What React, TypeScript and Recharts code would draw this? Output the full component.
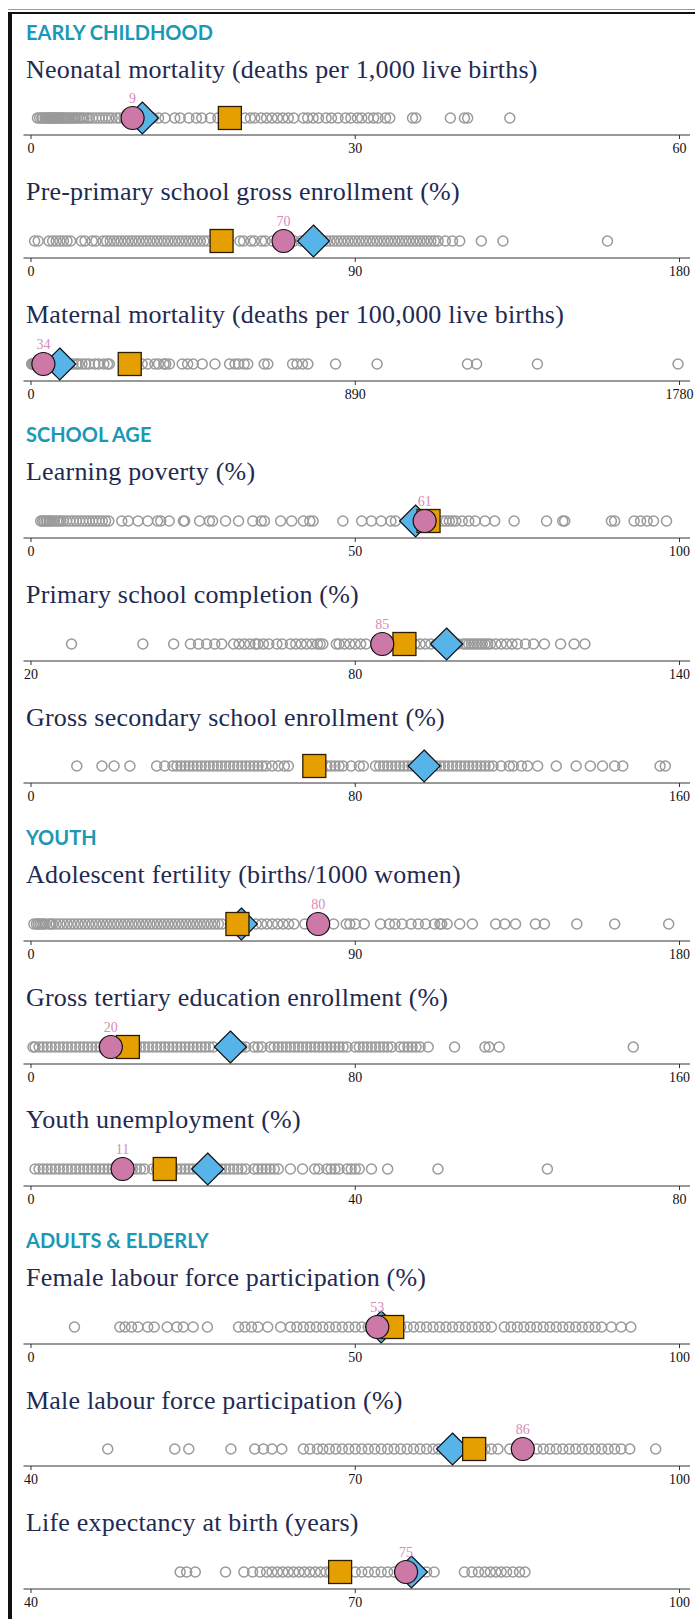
import { ScatterChart, Scatter, XAxis, YAxis } from "recharts";

const serif = '"Liberation Serif", "Times New Roman", serif';

if (typeof document !== "undefined") {
  document.documentElement.style.overflow = "hidden";
  // #root is only body-wide (ends 8px short of the window); let the frame run to the window edge
  document.body.style.marginRight = "0";
  const css = document.createElement("style");
  css.textContent = "#root { overflow: visible !important; } #root, #root * { max-width: none !important; }";
  document.head.appendChild(css);
}

const panelTitles = [
  "Neonatal mortality (deaths per 1,000 live births)",
  "Pre-primary school gross enrollment (%)",
  "Maternal mortality (deaths per 100,000 live births)",
  "Learning poverty (%)",
  "Primary school completion (%)",
  "Gross secondary school enrollment (%)",
  "Adolescent fertility (births/1000 women)",
  "Gross tertiary education enrollment (%)",
  "Youth unemployment (%)",
  "Female labour force participation (%)",
  "Male labour force participation (%)",
  "Life expectancy at birth (years)",
];

const sections = [
  { label: "EARLY CHILDHOOD", start: 0 },
  { label: "SCHOOL AGE", start: 3 },
  { label: "YOUTH", start: 6 },
  { label: "ADULTS & ELDERLY", start: 9 },
];

const axisTicks = [
  [0, 30, 60],
  [0, 90, 180],
  [0, 890, 1780],
  [0, 50, 100],
  [20, 80, 140],
  [0, 80, 160],
  [0, 90, 180],
  [0, 80, 160],
  [0, 40, 80],
  [0, 50, 100],
  [40, 70, 100],
  [40, 70, 100],
];

// pink circle (labelled), blue diamond, orange square
const countryValues: (number | null)[] = [9.4, 70.1, 34, 60.7, 85, null, 79.7, 19.7, 11.3, 53.4, 85.5, 74.7];
const diamondValues = [10.3, 78.4, 79, 59.3, 96.9, 97, 58.4, 49.2, 21.8, 54, 79, 75.2];
const squareValues = [18.4, 52.9, 271, 61.3, 89.1, 69.9, 57.3, 23.9, 16.5, 55.7, 81, 68.6];

const neonatalOthers = [
  0.6, 0.8, 1, 1.1, 1.3, 1.4, 1.5, 1.6, 1.7, 1.8, 1.9, 2, 2.1, 2.2, 2.3, 2.4, 2.5, 2.6, 2.8, 2.9, 3, 3.2, 3.3,
  3.5, 3.6, 3.8, 4, 4.1, 4.3, 4.5, 4.7, 4.9, 5.2, 5.4, 5.7, 6, 6.3, 6.6, 6.9, 7.2, 7.5, 7.9, 8.2, 8.6, 9.1,
  9.6, 10.3, 10.8, 11.3, 11.8, 12.4, 13.3, 13.8, 14.6, 15.3, 15.8, 16.6, 17.3, 19.8, 20.3, 20.7, 21.3, 21.8,
  22.3, 22.8, 23.3, 23.8, 24.3, 25.2, 25.6, 26.1, 26.6, 27.3, 27.8, 28.4, 29.1, 29.6, 30.2, 30.6, 31.2, 31.7,
  32.1, 32.8, 33.2, 35.3, 35.6, 38.8, 40.1, 40.4, 44.3,
];
const preprimaryOthers = [
  1, 2, 5, 6, 7, 8, 9, 10, 11, 14, 15, 17, 18, 20, 21, 22, 23, 24, 25, 26, 27, 28, 29, 30, 31, 32, 33, 34, 35,
  36, 37, 38, 39, 40, 41, 42, 43, 44, 45, 46, 47, 48, 49, 58, 59, 61, 62, 64, 65, 67, 73, 75, 77, 82, 83, 84,
  85, 86, 87, 88, 89, 90, 91, 92, 93, 94, 95, 96, 97, 98, 99, 100, 101, 102, 103, 104, 105, 106, 107, 108,
  109, 110, 111, 112, 113, 115, 117, 119, 125, 131, 160,
];
const maternalOthers = [
  2, 3, 4, 5, 6, 7, 8, 9, 10, 11, 12, 13, 15, 17, 19, 20, 22, 25, 27, 29, 31, 36, 38, 42, 45, 48, 52, 55, 60,
  65, 70, 75, 85, 95, 105, 115, 125, 130, 140, 150, 160, 175, 185, 200, 210, 215, 280, 305, 320, 340, 350,
  365, 370, 380, 415, 430, 445, 470, 505, 545, 560, 570, 585, 595, 640, 650, 718, 730, 745, 760, 836, 950,
  1198, 1223, 1390, 1776,
];
const learningOthers = [
  1.5, 1.8, 2, 2.3, 2.5, 2.8, 3, 3.3, 3.6, 4, 4.3, 4.6, 5, 5.5, 6, 6.5, 7, 7.5, 8, 8.5, 9, 9.5, 10, 10.5, 11,
  11.5, 12, 14, 15, 16.5, 18, 19.5, 20, 21.3, 23.5, 23.7, 26, 27.5, 28, 30, 32, 34.2, 35.5, 36, 38.5, 40.2,
  42, 43, 43.5, 48.1, 51, 52.5, 54, 55.5, 56.2, 63.5, 64, 64.5, 65, 65.5, 66.5, 67.5, 68.5, 70, 71.5, 74.5,
  79.5, 82, 82.3, 89.5, 90, 93, 94, 95, 96, 98,
];
const primaryOthers = [
  27.5, 40.7, 46.4, 49.5, 51, 52.5, 54, 55.3, 57.5, 58.5, 59.5, 60.5, 61.5, 62, 63, 64, 65.5, 66.5, 68, 69,
  70, 71, 72, 73, 73.5, 74, 76.5, 77, 78, 79, 80, 81, 82, 84, 90, 91, 92, 93, 94, 95, 96, 97, 98, 99, 100,
  100.5, 101, 101.5, 102, 102.5, 103, 103.5, 104, 104.5, 105, 106, 107, 108, 109, 110, 111.5, 113, 115, 118,
  120.5, 122.5,
];
const secondaryOthers = [
  11.3, 17.5, 20.5, 24.4, 31, 33, 35, 36, 37, 38, 39, 40, 41, 42, 43, 44, 45, 46, 47, 48, 49, 50, 51, 52, 53,
  54, 55, 56, 57, 58, 59.5, 61, 62.5, 63.5, 73, 74, 75, 76, 77, 79, 81, 82, 85, 86, 87, 88, 89, 90, 91, 92,
  93, 94, 95, 96, 98, 99, 100, 101, 102, 103, 104, 105, 106, 107, 108, 109, 110, 111, 112, 113, 114, 116, 118,
  119, 121, 122.5, 125, 129.6, 134.5, 138, 141, 144, 146, 155.2, 156.5,
];
const adolescentOthers = [
  0.8, 1.5, 2, 2.5, 3, 3.5, 4, 5, 5.5, 6, 7, 8, 9, 10, 11, 12, 13, 14, 15, 16, 17, 18, 19, 20, 21, 22, 23, 24,
  25, 26, 27, 28, 29, 30, 31, 32, 33, 34, 35, 36, 37, 38, 39, 40, 41, 42, 43, 44, 45, 46, 47, 48, 49, 50, 51,
  52, 53, 62.5, 64, 65.5, 67, 68.5, 70, 71.5, 73, 76, 84, 87.5, 88.5, 90, 92.5, 97, 99.5, 101, 103, 105.5,
  107.5, 109.5, 112, 113.5, 114, 115.5, 119, 122.5, 129, 131.5, 134.5, 140, 142.5, 151.5, 162, 177,
];
const tertiaryOthers = [
  0.5, 1, 2, 3, 4, 5, 6, 7, 8, 9, 10, 11, 12, 13, 14, 15, 16, 17, 18, 21, 22, 26, 27, 28, 29, 30, 31, 32, 33,
  34, 35, 36, 37, 38, 39, 40, 41, 42, 43, 44, 45, 51, 52, 53, 55, 56, 57, 59, 60, 61, 62, 63, 64, 65, 66, 67,
  68, 69, 70, 71, 72, 73, 74, 75, 76, 77, 78, 80, 81, 82, 83, 84, 85, 86, 87, 88, 89, 91, 92, 93, 94, 95, 96,
  98, 104.5, 112, 113, 115.5, 148.6,
];
const unemploymentOthers = [
  0.5, 1, 1.5, 2, 2.5, 3, 3.5, 4, 4.5, 5, 5.5, 6, 6.5, 7, 7.5, 8, 8.5, 9, 9.5, 10, 10.5, 12, 12.5, 13, 13.5,
  14, 15, 15.5, 17.5, 18, 18.5, 19, 19.5, 20, 20.5, 23, 23.5, 24, 24.5, 25, 25.5, 26, 26.5, 27.5, 28, 28.5, 29,
  29.5, 30, 30.5, 32, 33.5, 35, 35.5, 36.5, 37, 37.5, 38, 39, 39.5, 40, 40.5, 42, 44, 50.2, 63.7,
];
const femaleOthers = [
  6.7, 13.7, 14.5, 15.5, 16.5, 18, 19, 21, 22.5, 23.5, 25, 27.2, 32, 33, 34, 35, 36.5, 38.5, 40, 41, 42, 43,
  44, 45, 46, 47, 48, 49, 50, 51, 52, 56.5, 57, 58, 59, 60, 61, 62, 63, 64, 65, 66, 67, 68, 69, 70, 71, 73,
  74, 75, 76, 77, 78, 79, 80, 81, 82, 83, 84, 85, 86, 87, 88, 89.5, 91, 92.5,
];
const maleOthers = [
  47.1, 53.3, 54.6, 58.5, 60.7, 61.5, 62.3, 63.2, 65.2, 65.8, 66.5, 67, 67.6, 68.2, 68.8, 69.4, 70, 70.6,
  71.2, 71.8, 72.4, 73, 73.6, 74.2, 74.8, 75.4, 76, 76.6, 77.2, 77.7, 82, 82.6, 83.2, 84.3, 86.8, 87.4, 88,
  88.6, 89.2, 89.8, 90.4, 91, 91.6, 92.2, 92.8, 93.4, 94, 94.6, 95.4, 97.8,
];
const lifeOthers = [
  53.8, 54.4, 55.2, 58, 59.7, 60.5, 61.2, 61.8, 62.3, 62.8, 63.3, 63.8, 64.3, 64.8, 65.3, 65.8, 66.3, 66.8,
  67.3, 67.7, 70, 70.6, 71.2, 71.8, 72.4, 73, 73.6, 74.2, 74.8, 75.4, 76, 76.6, 77.3, 80.1, 80.8, 81.4, 82,
  82.5, 83, 83.5, 84, 84.6, 85.2, 85.7,
];

const otherValues = [
  neonatalOthers, preprimaryOthers, maternalOthers, learningOthers, primaryOthers, secondaryOthers,
  adolescentOthers, tertiaryOthers, unemploymentOthers, femaleOthers, maleOthers, lifeOthers,
];

// layout, page coordinates
const FIRST_DOT_Y = 118.3;
const PANEL_STEP = 122.6;
const SECTION_GAP = 35;
const CHART_W = 683;
const CHART_H = 80;
const DOT_IN_CHART = 37;

function dotY(i: number) {
  const before = sections.filter((s) => s.start <= i).length - 1;
  return FIRST_DOT_Y + i * PANEL_STEP + before * SECTION_GAP;
}

function GrayDot(p: any) {
  return <circle cx={p.cx} cy={p.cy} r={5} fill="none" stroke="#9a9a9a" strokeWidth={1.5} />;
}

function Diamond(p: any) {
  const h = 16;
  return (
    <polygon
      points={`${p.cx},${p.cy - h} ${p.cx + h},${p.cy} ${p.cx},${p.cy + h} ${p.cx - h},${p.cy}`}
      fill="#56B4E9"
      stroke="#111"
      strokeWidth={1.2}
    />
  );
}

function Square(p: any) {
  const s = 11.5;
  return <rect x={p.cx - s} y={p.cy - s} width={2 * s} height={2 * s} fill="#E69F00" stroke="#2a1c00" strokeWidth={1.3} />;
}

function CountryDot(p: any) {
  return (
    <g>
      <circle cx={p.cx} cy={p.cy} r={11.5} fill="#CC79A7" stroke="#111" strokeWidth={1.2} />
      <text x={p.cx} y={p.cy - 15.5} textAnchor="middle" fontSize={14} fontFamily={serif} fill="#D98BBA">
        {Math.round(p.payload.x)}
      </text>
    </g>
  );
}

function Panel({ i }: { i: number }) {
  const ticks = axisTicks[i];
  const y = dotY(i);
  const others = otherValues[i].map((v) => ({ x: v, y: 0.5 }));
  const country = countryValues[i];
  return (
    <>
      <div
        style={{
          position: "absolute",
          left: 18,
          top: y - 40 - 8 - 21.8,
          fontFamily: serif,
          fontSize: 26,
          letterSpacing: 0.2,
          lineHeight: 1,
          color: "#1f2a52",
          whiteSpace: "nowrap",
        }}
      >
        {panelTitles[i]}
      </div>
      <div style={{ position: "absolute", left: 4, top: y - DOT_IN_CHART - 8, width: CHART_W }}>
        <ScatterChart width={CHART_W} height={CHART_H} margin={{ top: 20, right: 5, bottom: 0, left: 11.5 }}>
          <XAxis
            type="number"
            dataKey="x"
            domain={[ticks[0], ticks[2]]}
            ticks={ticks}
            interval={0}
            padding={{ left: 7.5, right: 10.5 }}
            height={26}
            tickSize={4}
            tickMargin={4}
            stroke="#333"
            tick={{ fill: "#111", fontSize: 14, fontFamily: serif }}
          />
          <YAxis type="number" dataKey="y" domain={[0, 1]} hide />
          <Scatter data={others} shape={GrayDot} isAnimationActive={false} />
          <Scatter data={[{ x: diamondValues[i], y: 0.5 }]} shape={Diamond} isAnimationActive={false} />
          <Scatter data={[{ x: squareValues[i], y: 0.5 }]} shape={Square} isAnimationActive={false} />
          {country !== null && (
            <Scatter data={[{ x: country, y: 0.5 }]} shape={CountryDot} isAnimationActive={false} />
          )}
        </ScatterChart>
      </div>
    </>
  );
}

export default function App() {
  return (
    <div style={{ position: "relative", width: 687, height: 1611 }}>
      <div style={{ position: "absolute", left: -1, top: 1, width: 688, height: 1, background: "#9a9a9a" }} />
      <div style={{ position: "absolute", left: 0, top: 4, width: 687, height: 2, background: "#111" }} />
      <div style={{ position: "absolute", left: 0, top: 4, width: 4, height: 1607, background: "#111" }} />
      {sections.map((s) => (
        <div
          key={s.label}
          style={{
            position: "absolute",
            left: 18,
            top: dotY(s.start) - 79 - 8 - 17.7,
            fontFamily: "Lato, sans-serif",
            fontWeight: 700,
            fontSize: 20,
            lineHeight: 1,
            color: "#1A98B6",
            whiteSpace: "nowrap",
          }}
        >
          {s.label}
        </div>
      ))}
      {panelTitles.map((_, i) => (
        <Panel key={i} i={i} />
      ))}
    </div>
  );
}
